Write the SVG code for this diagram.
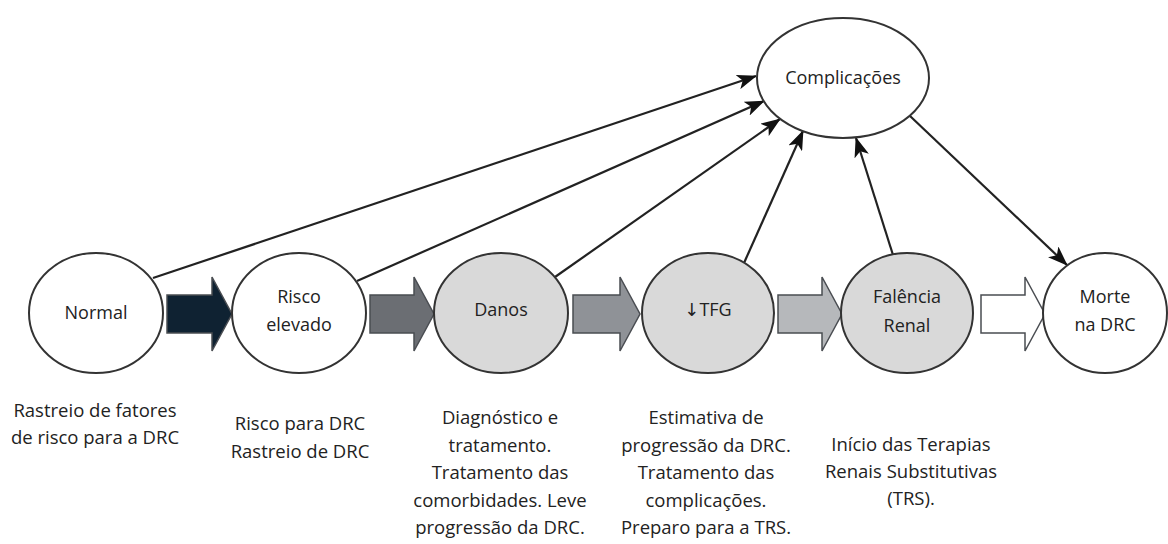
<svg xmlns="http://www.w3.org/2000/svg" width="1168" height="544" viewBox="0 0 1168 544">
  <style>
    text { font-family: "Open Sans", "DejaVu Sans", sans-serif; fill: #222; text-anchor: middle; }
    .lbl { font-size: 18px; }
    .cap { font-size: 18.5px; }
    .node { stroke: #333; stroke-width: 2; }
    .white { fill: #ffffff; }
    .grey { fill: #d9d9d9; }
    .link { stroke: #222; stroke-width: 2.2; fill: none; marker-end: url(#head); }
    .block { stroke: #4a4d52; stroke-width: 1.5; stroke-linejoin: miter; }
  </style>
  <defs>
    <marker id="head" viewBox="0 0 20 15" refX="19" refY="7.5" markerWidth="20" markerHeight="15" markerUnits="userSpaceOnUse" orient="auto">
      <path d="M0,0 L20,7.5 L0,15 L5,7.5 Z" fill="#111"/>
    </marker>
  </defs>
  <rect width="1168" height="544" fill="#ffffff"/>

  <!-- progression block arrows -->
  <g id="progression">
    <path class="block" fill="#0f2232" d="M167,295 H212 V277 L232,314 L212,351 V333 H167 Z"/>
    <path class="block" fill="#6b6e73" d="M370,295 H414 V277 L434,314 L414,351 V333 H370 Z"/>
    <path class="block" fill="#8f9297" d="M573,295 H620 V277 L640,314 L620,351 V333 H573 Z"/>
    <path class="block" fill="#b6b8bb" d="M778,295 H822 V277 L842,314 L822,351 V333 H778 Z"/>
    <path class="block" fill="#ffffff" d="M981,295 H1025 V277 L1045,314 L1025,351 V333 H981 Z"/>
  </g>

  <!-- connectors to and from the complications node -->
  <g id="connectors">
    <line class="link" x1="153" y1="278" x2="756" y2="76"/>
    <line class="link" x1="357" y1="281" x2="764" y2="101"/>
    <line class="link" x1="555" y1="277" x2="780" y2="119"/>
    <line class="link" x1="744" y1="263" x2="803" y2="131"/>
    <line class="link" x1="893" y1="255" x2="856" y2="138"/>
    <line class="link" x1="910" y1="116" x2="1067" y2="265"/>
  </g>

  <g id="normal">
    <ellipse class="node white" cx="96" cy="313" rx="67" ry="60"/>
    <text class="lbl" x="96" y="319">Normal</text>
  </g>
  <g id="risco-elevado">
    <ellipse class="node white" cx="299" cy="313" rx="67" ry="60"/>
    <text class="lbl" x="299" y="303">Risco</text>
    <text class="lbl" x="299" y="331">elevado</text>
  </g>
  <g id="danos">
    <ellipse class="node grey" cx="501" cy="313" rx="67" ry="60"/>
    <text class="lbl" x="501" y="316">Danos</text>
  </g>
  <g id="tfg">
    <ellipse class="node grey" cx="708" cy="313" rx="66" ry="60"/>
    <text class="lbl" x="708" y="316">↓TFG</text>
  </g>
  <g id="falencia-renal">
    <ellipse class="node grey" cx="907" cy="313" rx="66" ry="60"/>
    <text class="lbl" x="907" y="303">Falência</text>
    <text class="lbl" x="907" y="332">Renal</text>
  </g>
  <g id="morte">
    <ellipse class="node white" cx="1105" cy="313" rx="62" ry="60"/>
    <text class="lbl" x="1105" y="303">Morte</text>
    <text class="lbl" x="1105" y="331">na DRC</text>
  </g>
  <g id="complicacoes">
    <ellipse class="node white" cx="843" cy="78" rx="86" ry="60"/>
    <text class="lbl" x="843" y="84">Complicações</text>
  </g>

  <!-- stage descriptions -->
  <g id="captions">
    <text class="cap" x="95" y="416.5">Rastreio de fatores</text>
    <text class="cap" x="95" y="443.5">de risco para a DRC</text>

    <text class="cap" x="300" y="429.5">Risco para DRC</text>
    <text class="cap" x="300" y="458">Rastreio de DRC</text>

    <text class="cap" x="500" y="424">Diagnóstico e</text>
    <text class="cap" x="500" y="451.5">tratamento.</text>
    <text class="cap" x="500" y="479">Tratamento das</text>
    <text class="cap" x="500" y="506.5">comorbidades. Leve</text>
    <text class="cap" x="500" y="534">progressão da DRC.</text>

    <text class="cap" x="706" y="424">Estimativa de</text>
    <text class="cap" x="706" y="451.5">progressão da DRC.</text>
    <text class="cap" x="706" y="479">Tratamento das</text>
    <text class="cap" x="706" y="506.5">complicações.</text>
    <text class="cap" x="706" y="534">Preparo para a TRS.</text>

    <text class="cap" x="911" y="451">Início das Terapias</text>
    <text class="cap" x="911" y="478">Renais Substitutivas</text>
    <text class="cap" x="911" y="504.5">(TRS).</text>
  </g>
</svg>
